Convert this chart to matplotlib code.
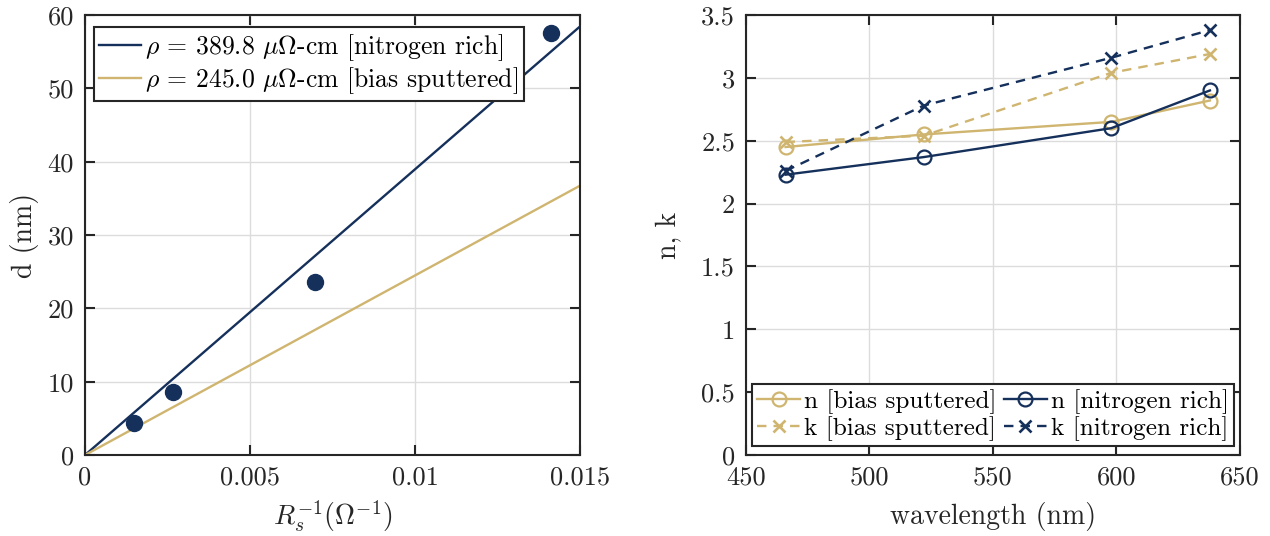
import numpy as np
import matplotlib
matplotlib.use("Agg")
import matplotlib.pyplot as plt
from matplotlib.ticker import FuncFormatter, FixedLocator

plt.rcParams['font.family'] = 'serif'
plt.rcParams['font.serif'] = ['cmr10']
plt.rcParams['mathtext.fontset'] = 'cm'
plt.rcParams['axes.formatter.use_mathtext'] = True
plt.rcParams['axes.unicode_minus'] = False

NAVY = '#15305b'
GOLD = '#cfb56f'

# Left panel data
inv_rs = [0.00147, 0.00266, 0.00696, 0.01412]
thickness = [4.4, 8.6, 23.6, 57.6]
rho_labels = [r'$\rho$ = 389.8 $\mu\Omega$-cm [nitrogen rich]',
              r'$\rho$ = 245.0 $\mu\Omega$-cm [bias sputtered]']
rho_values = [389.8, 245.0]  # micro-ohm cm
fit_x = [0.0, 0.015]

# Right panel data
wavelength = [466, 522, 598, 638]
n_bias = [2.45, 2.55, 2.65, 2.82]
n_nitro = [2.23, 2.37, 2.60, 2.90]
k_bias = [2.49, 2.54, 3.04, 3.19]
k_nitro = [2.26, 2.78, 3.16, 3.38]

fig = plt.figure(figsize=(12.7, 5.36), dpi=100)
ax1 = fig.add_axes([0.0669, 0.151, 0.390, 0.821])
ax2 = fig.add_axes([0.5875, 0.151, 0.3885, 0.821])

fmt = FuncFormatter(lambda v, p: '%g' % v)
DASH = (0, (4, 3))

def style(ax):
    ax.grid(True, color='#dcdcdc', lw=1.0)
    ax.set_axisbelow(True)
    for s in ax.spines.values():
        s.set_color('#262626')
        s.set_linewidth(1.5)
    ax.tick_params(direction='in', length=7, width=1.5, color='#262626',
                   top=True, right=True, labelsize=19, pad=8, labelcolor='#262626')

# Left
for rho, lab, c in zip(rho_values, rho_labels, [NAVY, GOLD]):
    slope = rho * 10.0  # d[nm] = rho[uOhm cm]*10 * (1/Rs)
    ax1.plot(fit_x, [slope * x for x in fit_x], color=c, lw=1.7, label=lab)
ax1.plot(inv_rs, thickness, 'o', color=NAVY, ms=11.5, zorder=5)
ax1.set_xlim(0, 0.015)
ax1.set_ylim(0, 60)
ax1.xaxis.set_major_locator(FixedLocator([0, 0.005, 0.01, 0.015]))
ax1.yaxis.set_major_locator(FixedLocator([0, 10, 20, 30, 40, 50, 60]))
ax1.xaxis.set_major_formatter(fmt)
ax1.yaxis.set_major_formatter(fmt)
style(ax1)
ax1.set_xlabel(r'$R_s^{-1}(\Omega^{-1})$', fontsize=20, color='#262626', labelpad=6)
ax1.set_ylabel('d (nm)', fontsize=20, color='#262626', labelpad=6)
leg1 = ax1.legend(loc='upper left', bbox_to_anchor=(0.018, 0.973), fontsize=18.5,
                  frameon=True, fancybox=False, edgecolor='#262626', framealpha=1,
                  handlelength=1.65, handletextpad=0.15, borderpad=0.2,
                  labelspacing=0.1, borderaxespad=0.0)
leg1.get_frame().set_linewidth(1.5)

# Right
ax2.plot(wavelength, n_bias, '-o', color=GOLD, lw=1.7, ms=10, mfc='none', mew=1.6,
         label='n [bias sputtered]')
ax2.plot(wavelength, k_bias, marker='x', ls=DASH, color=GOLD, lw=1.7, ms=9, mew=1.9,
         label='k [bias sputtered]')
ax2.plot(wavelength, n_nitro, '-o', color=NAVY, lw=1.7, ms=10, mfc='none', mew=1.6,
         label='n [nitrogen rich]')
ax2.plot(wavelength, k_nitro, marker='x', ls=DASH, color=NAVY, lw=1.7, ms=9, mew=1.9,
         label='k [nitrogen rich]')
ax2.set_xlim(450, 650)
ax2.set_ylim(0, 3.5)
ax2.xaxis.set_major_locator(FixedLocator([450, 500, 550, 600, 650]))
ax2.yaxis.set_major_locator(FixedLocator(np.arange(0, 3.51, 0.5)))
ax2.xaxis.set_major_formatter(fmt)
ax2.yaxis.set_major_formatter(fmt)
style(ax2)
ax2.set_xlabel('wavelength (nm)', fontsize=20, color='#262626', labelpad=9)
ax2.set_ylabel('n, k', fontsize=20, color='#262626', labelpad=14)
leg2 = ax2.legend(loc='lower center', bbox_to_anchor=(0.5, 0.02), ncol=2, fontsize=18.2,
                  frameon=True, fancybox=False, edgecolor='#262626', framealpha=1,
                  handlelength=1.7, handletextpad=0.15, borderpad=0.2,
                  labelspacing=0.1, columnspacing=0.3, borderaxespad=0.0)
leg2.get_frame().set_linewidth(1.5)

fig.savefig('out.png', dpi=100)
